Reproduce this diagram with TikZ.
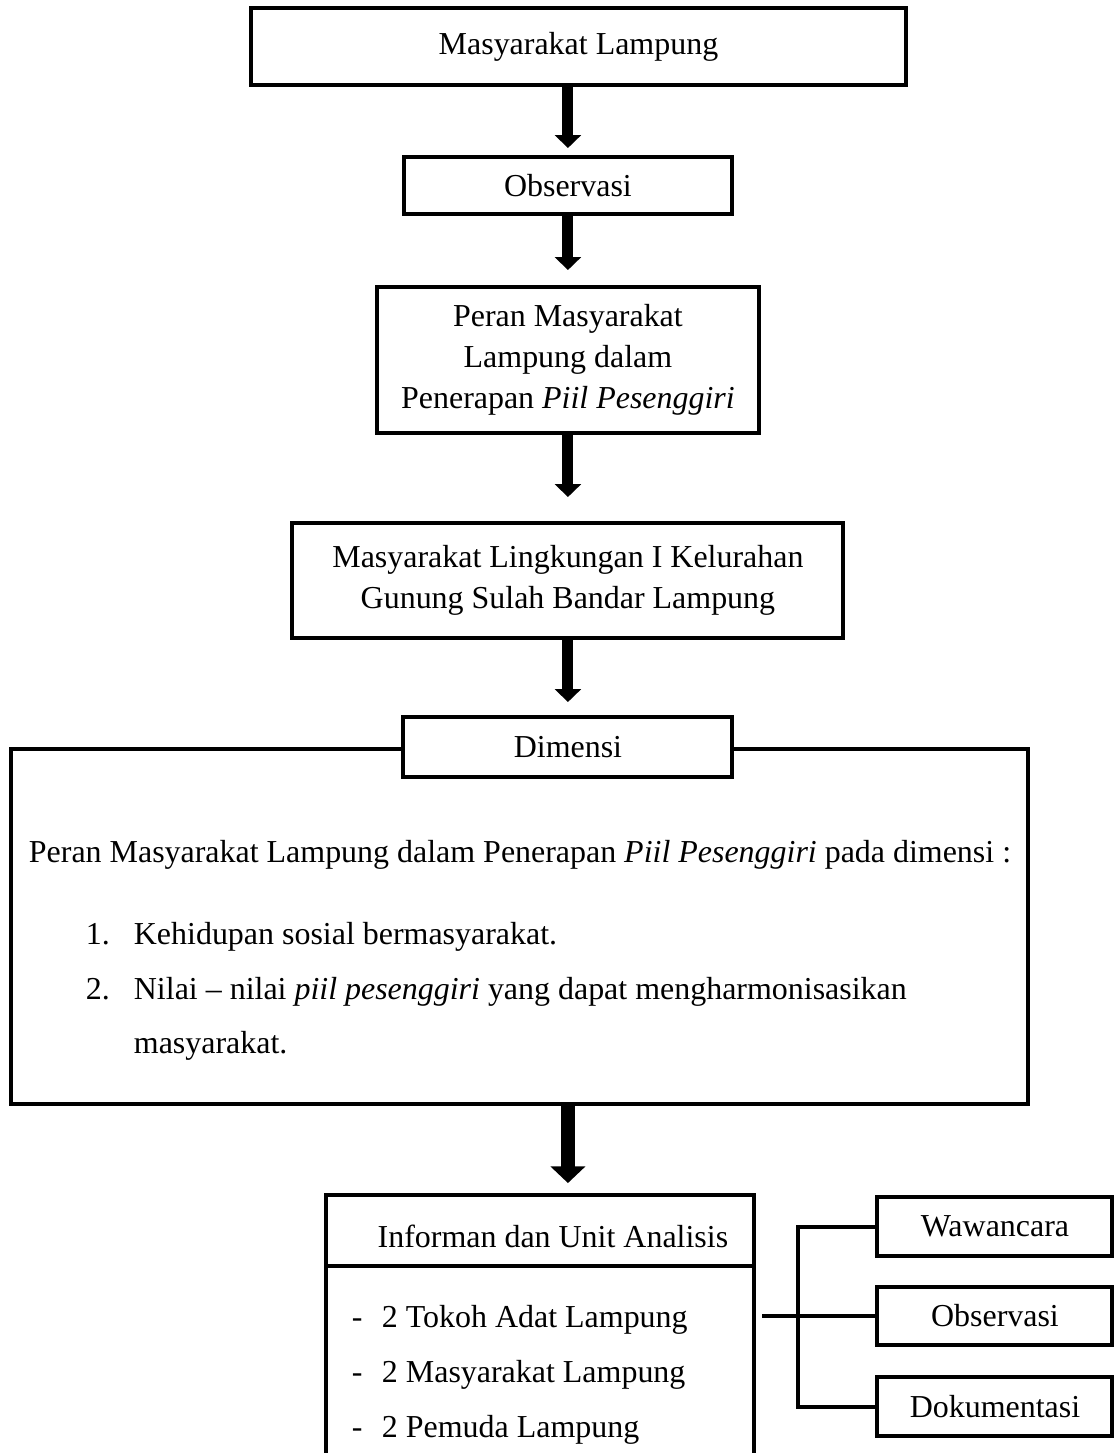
\documentclass[tikz,border=0pt]{standalone}
\usepackage{fontspec}
\setmainfont{Liberation Serif}
\usetikzlibrary{positioning}
\usetikzlibrary{arrows.meta}
\tikzset{main box/.style={draw,line width=1.5pt,fill=white,align=center,inner sep=0pt,outer sep=0pt},
  flow arrow/.style={line width=4.1pt,-{Triangle[width=0.34cm,length=0.17cm]}},
  wide arrow/.style={line width=5pt,-{Triangle[width=0.45cm,length=0.22cm]}},
  plain line/.style={line width=1.5pt},
  item text/.style={anchor=base west,inner sep=0pt} }

\begin{document}
\begin{tikzpicture}[every node/.style={font=\fontsize{12}{15.5}\selectfont}]
\useasboundingbox (-7.636,0.614) rectangle (7.108,-18.566);
\begin{scope}[on grid]

  \node[main box,minimum width=8.646cm,minimum height=1.016cm] (mas) {Masyarakat Lampung};
  \node[main box,minimum width=4.330cm,minimum height=0.752cm] (obs) [below left=1.835cm and 0.139cm of mas] {Observasi};
  \node[main box,minimum width=5.042cm,minimum height=1.927cm] (peran) [below=2.303cm of obs] {Peran Masyarakat\\Lampung dalam\\Penerapan \textit{Piil Pesenggiri}};
  \node[main box,minimum width=7.273cm,minimum height=1.518cm] (ling) [below=2.911cm of peran] {Masyarakat Lingkungan I Kelurahan\\Gunung Sulah Bandar Lampung};

  \node[main box,minimum width=13.424cm,minimum height=4.686cm] (big) [below left=4.567cm and 0.634cm of ling] {};
  \node[main box,minimum width=4.343cm,minimum height=0.792cm] (dim) [below=2.198cm of ling] {Dimensi};

  \node[item text] (lead) at ([xshift=0.224cm,yshift=-1.492cm]big.north west) {Peran Masyarakat Lampung dalam Penerapan \textit{Piil Pesenggiri} pada dimensi :};
  \node[item text] (num1) at ([xshift=0.977cm,yshift=-2.587cm]big.north west) {1.};
  \node[item text] (item1) at ([xshift=1.610cm,yshift=-2.587cm]big.north west) {Kehidupan sosial bermasyarakat.};
  \node[item text] (num2) at ([xshift=0.977cm,yshift=-3.313cm]big.north west) {2.};
  \node[item text] (item2) at ([xshift=1.610cm,yshift=-3.313cm]big.north west) {Nilai – nilai \textit{piil pesenggiri} yang dapat mengharmonisasikan};
  \node[item text] (item2b) at ([xshift=1.610cm,yshift=-4.013cm]big.north west) {masyarakat.};

  \node[main box,minimum width=5.650cm,minimum height=0.937cm,text height=0.44cm] (infohead) [below right=4.013cm and 0.271cm of big] {\hspace*{0.33cm}Informan dan Unit Analisis};
  \node[item text] (dash1) at ([xshift=0.33cm,yshift=-0.818cm]infohead.south west) {-};
  \node[item text] (inf1) at ([xshift=0.726cm,yshift=-0.818cm]infohead.south west) {2 Tokoh Adat Lampung};
  \node[item text] (dash2) at ([xshift=0.33cm,yshift=-1.544cm]infohead.south west) {-};
  \node[item text] (inf2) at ([xshift=0.726cm,yshift=-1.544cm]infohead.south west) {2 Masyarakat Lampung};
  \node[item text] (dash3) at ([xshift=0.33cm,yshift=-2.270cm]infohead.south west) {-};
  \node[item text] (inf3) at ([xshift=0.726cm,yshift=-2.270cm]infohead.south west) {2 Pemuda Lampung};

  \node[main box,minimum width=3.102cm,minimum height=0.779cm] (waw) [above right=0.053cm and 6.0cm of infohead] {Wawancara};
  \node[main box,minimum width=3.102cm,minimum height=0.766cm] (obs2) [below=1.181cm of waw] {Observasi};
  \node[main box,minimum width=3.102cm,minimum height=0.779cm] (dok) [below=1.195cm of obs2] {Dokumentasi};

  \coordinate (spine) at ([xshift=-1.043cm]waw.west);
  \coordinate[xshift=0.106cm] (gap) at (infohead.east |- obs2.west);

    \path
    (obs) edge [flow arrow,shorten >=0.224cm] (peran)
    (peran) edge [flow arrow,shorten >=0.343cm] (ling)
    (ling) edge [flow arrow,shorten >=0.198cm] (dim)
    ;
     \draw[flow arrow,shorten >=0.119cm] (mas.south -| obs.north) -- (obs.north);
     \draw[wide arrow,shorten >=0.158cm] (big.south -| dim.south) -- (infohead.north -| dim.south);

     \draw[plain line] (infohead.south west) -- ++(0,-2.468cm);
     \draw[plain line] (infohead.south east) -- ++(0,-2.468cm);

     \draw[plain line] (waw.west) -| (spine) |- (dok.west);
     \draw[plain line] (gap) -- (obs2.west);
\end{scope}
\end{tikzpicture}
\end{document}
